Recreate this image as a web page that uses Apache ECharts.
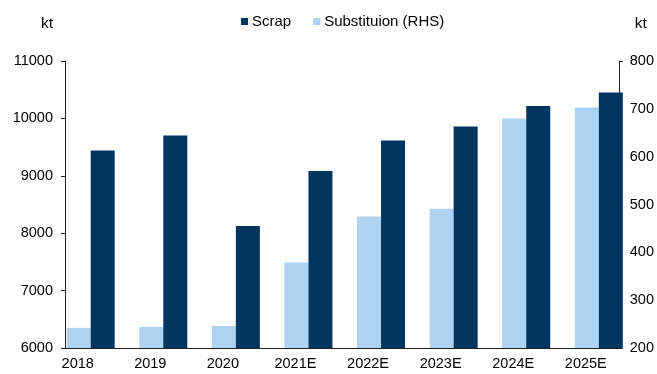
<!DOCTYPE html>
<html>
<head>
<meta charset="utf-8">
<script src="https://cdn.jsdelivr.net/npm/echarts@6/dist/echarts.min.js"></script>
<style>
  html, body { margin: 0; padding: 0; background: #fff; }
  #chart { width: 657px; height: 374px; }
</style>
</head>
<body>
<div id="chart"></div>
<script>
// Years on the category axis
const years = ['2018', '2019', '2020', '2021E', '2022E', '2023E', '2024E', '2025E'];
// Scrap supply, kt (left axis)
const scrap = [9442, 9703, 8126, 9082, 9616, 9860, 10218, 10451];
// Substitution, kt (right axis)
const substitution = [242, 244, 246, 379, 475, 491, 680, 703];
// Axis ranges and tick steps
const leftAxis = { min: 6000, max: 11000, interval: 1000 };
const rightAxis = { min: 200, max: 800, interval: 100 };

const DARK = '#00355F';
const LIGHT = '#ADD3F0';
const AXIS = '#222';
const FONT = '"Liberation Sans", Arial, sans-serif';

const chart = echarts.init(document.getElementById('chart'), null, { renderer: 'canvas' });

const frameTop = 61, frameBottom = 26;
const plain = v => String(v);

chart.setOption({
  animation: false,
  backgroundColor: '#fff',
  textStyle: { fontFamily: FONT },
  legend: {
    top: 9,
    left: 236,
    itemWidth: 7,
    itemHeight: 7,
    itemGap: 22,
    icon: 'rect',
    textStyle: { fontFamily: FONT, fontSize: 15, color: '#000', padding: [0, 0, 0, -1] },
    data: ['Scrap', 'Substituion (RHS)']
  },
  grid: [
    // frame carrying the visible axes
    { left: 65, right: 32, top: frameTop, bottom: frameBottom },
    // frame carrying the bars
    { left: 54.4, width: 580.7, top: frameTop, bottom: frameBottom }
  ],
  xAxis: [
    {
      gridIndex: 0, type: 'category', data: years,
      axisLine: { lineStyle: { color: AXIS, width: 1 } },
      axisTick: { show: false }, axisLabel: { show: false }, splitLine: { show: false }
    },
    {
      gridIndex: 1, type: 'category', data: years,
      axisLine: { show: false }, axisTick: { show: false }, splitLine: { show: false },
      axisLabel: { color: '#000', fontSize: 14.5, fontFamily: FONT, margin: 8, padding: [0, 26, 0, 0] }
    }
  ],
  yAxis: [
    {
      gridIndex: 0, type: 'value', position: 'left', ...leftAxis,
      name: 'kt', nameLocation: 'end', nameGap: 29,
      nameTextStyle: { color: '#000', fontSize: 15.5, fontFamily: FONT, align: 'right', padding: [0, 12, 0, 0] },
      axisLine: { show: true, lineStyle: { color: AXIS, width: 1 } },
      axisTick: { show: true, inside: false, length: 4, lineStyle: { color: AXIS } },
      axisLabel: { color: '#000', fontSize: 14.5, fontFamily: FONT, margin: 12, formatter: plain },
      splitLine: { show: false }
    },
    {
      gridIndex: 0, type: 'value', position: 'right', ...rightAxis,
      name: 'kt', nameLocation: 'end', nameGap: 29,
      nameTextStyle: { color: '#000', fontSize: 15.5, fontFamily: FONT, align: 'left', padding: [0, 0, 0, 16] },
      axisLine: { show: true, lineStyle: { color: AXIS, width: 1 } },
      axisTick: { show: true, inside: false, length: 4, lineStyle: { color: AXIS } },
      axisLabel: { color: '#000', fontSize: 14.5, fontFamily: FONT, margin: 11, formatter: plain },
      splitLine: { show: false }
    },
    { gridIndex: 1, type: 'value', ...leftAxis, show: false, splitLine: { show: false } },
    { gridIndex: 1, type: 'value', ...rightAxis, show: false, splitLine: { show: false } }
  ],
  series: [
    {
      name: 'Substituion (RHS)', type: 'bar', xAxisIndex: 1, yAxisIndex: 3,
      data: substitution, barWidth: 24, barGap: '0%',
      itemStyle: { color: LIGHT }
    },
    {
      name: 'Scrap', type: 'bar', xAxisIndex: 1, yAxisIndex: 2,
      data: scrap, barWidth: 24, barGap: '0%',
      itemStyle: { color: DARK }
    }
  ]
});
</script>
</body>
</html>
